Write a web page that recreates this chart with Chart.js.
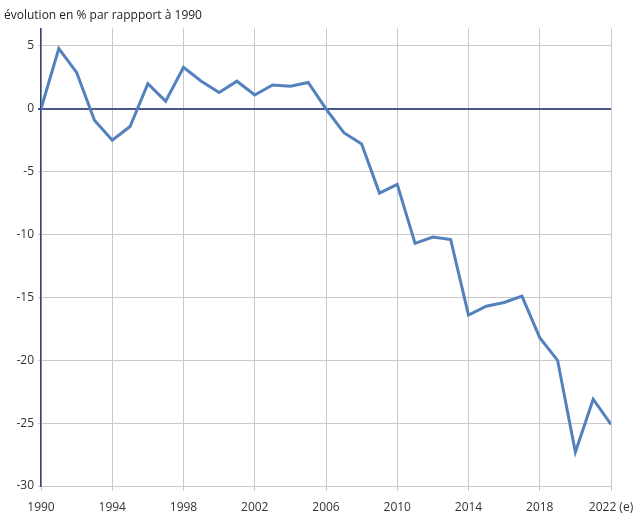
<!DOCTYPE html>
<html>
<head>
<meta charset="utf-8">
<script src="https://cdn.jsdelivr.net/npm/chart.js@4"></script>
<style>
  body { margin: 0; background: #fff; }
</style>
</head>
<body>
<canvas id="grafico" width="637" height="523"></canvas>
<script>
const annees = [1990,1991,1992,1993,1994,1995,1996,1997,1998,1999,2000,2001,2002,2003,2004,2005,2006,2007,2008,2009,2010,2011,2012,2013,2014,2015,2016,2017,2018,2019,2020,2021,2022]
const evolution = [0,4.8,2.9,-0.9,-2.5,-1.4,2.0,0.6,3.3,2.2,1.3,2.2,1.1,1.9,1.8,2.1,0.0,-1.9,-2.8,-6.7,-6.0,-10.7,-10.2,-10.4,-16.4,-15.7,-15.4,-14.9,-18.2,-20.0,-27.3,-23.1,-25.1]
const ticksY = [-30,-25,-20,-15,-10,-5,0,5]
const titre = 'évolution en % par rappport à 1990'

Chart.defaults.font.family = '"Open Sans", sans-serif'
Chart.defaults.font.size = 12
Chart.defaults.color = '#333'

const ctx = document.getElementById('grafico')

const grafico = new Chart(ctx, {
  type: 'line',
  data: {
    datasets: [{
      data: annees.map((a, i) => ({ x: a, y: evolution[i] })),
      borderColor: '#5381bd',
      borderWidth: 3,
      pointRadius: 0,
      tension: 0
    }]
  },
  options: {
    responsive: false,
    animation: false,
    layout: { padding: { left: 4, right: 26, top: 0, bottom: 0 } },
    plugins: {
      legend: { display: false },
      tooltip: { enabled: false },
      title: {
        display: true,
        text: titre,
        align: 'start',
        color: '#222',
        font: { size: 12, weight: 'normal' },
        padding: { top: 8, bottom: 6 }
      }
    },
    scales: {
      x: {
        type: 'linear',
        min: 1990,
        max: 2022,
        afterFit: s => { s.height = 37; s.paddingRight = 0 },
        ticks: {
          stepSize: 4,
          maxRotation: 0,
          padding: 9,
          callback: v => v === 2022 ? '2022 (e)' : String(v)
        },
        grid: { color: '#c9c9c9', tickLength: 5 },
        border: { color: '#c9c9c9' }
      },
      y: {
        min: -30,
        max: 6.4,
        afterFit: s => { s.width = 37 },
        afterBuildTicks: s => { s.ticks = ticksY.map(v => ({ value: v })) },
        ticks: { padding: 4 },
        grid: {
          color: c => c.tick && c.tick.value === 0 ? '#4a5889' : '#c9c9c9',
          lineWidth: c => c.tick && c.tick.value === 0 ? 2 : 1,
          tickLength: 3
        },
        border: { color: '#3a3f7c', width: 1.5 }
      }
    }
  }
})
</script>
</body>
</html>
